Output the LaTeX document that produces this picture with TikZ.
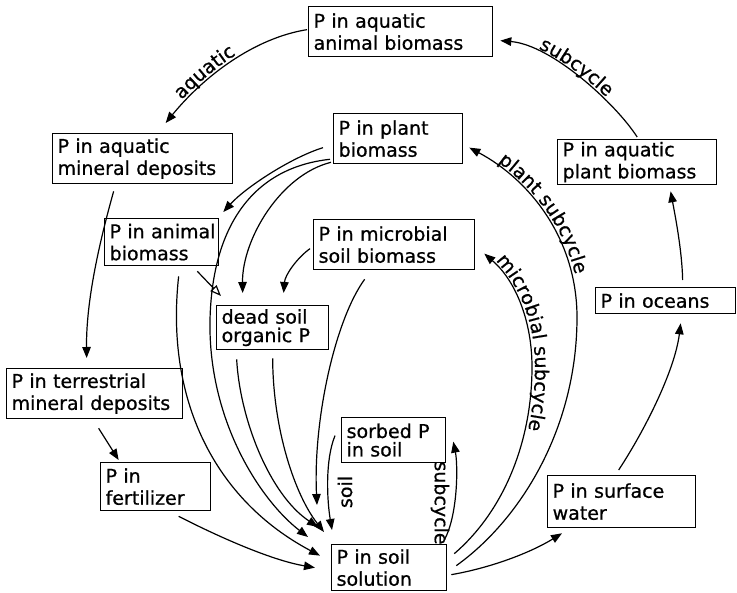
\documentclass[tikz,border=0pt]{standalone}
\usepackage{fontspec}
\setmainfont{DejaVu Sans}[FakeBold=0.8]
\usetikzlibrary{arrows.meta,decorations.text}
\newcommand\lbl{\fontsize{19}{22}\selectfont}
\newcommand\lbltight{\fontsize{19}{18.5}\selectfont}
\newcommand\boxline[1]{\mbox{#1}}
\begin{document}
\begin{tikzpicture}[x=1pt,y=1pt,
  box/.style={draw, line width=1.3pt, anchor=north west, inner xsep=5pt, inner ysep=0pt, align=left, font=\lbl},
  arr/.style={line width=1.2pt, -{Triangle[length=11pt,width=8.5pt]}},
  oarr/.style={line width=1.2pt, -{Triangle[open,length=11pt,width=8.5pt]}},
  lab/.style={font=\lbl, inner sep=0pt},
  curvetext/.style={decorate, decoration={text along path, raise=3pt, text align={left indent=#1}}}
]
\useasboundingbox (0,0) rectangle (737,-593);

% boxes
\node[box, text width=174pt, minimum height=50pt] (aab) at (308,-6) {\boxline{P in aquatic}\\\boxline{animal biomass}};
\node[box, text width=170pt, minimum height=50pt] (amd) at (52,-133) {\boxline{P in aquatic}\\\boxline{mineral deposits}};
\node[box, text width=119pt, minimum height=50pt] (pb) at (333,-113) {\boxline{P in plant}\\\boxline{biomass}};
\node[box, text width=149pt, minimum height=45pt] (apb) at (557,-139) {\boxline{P in aquatic}\\\boxline{plant biomass}};
\node[box, text width=130pt, minimum height=26pt] (oce) at (595,-287) {\boxline{P in oceans}};
\node[box, text width=104pt, minimum height=47pt] (ab) at (104,-218) {\boxline{P in animal}\\\boxline{biomass}};
\node[box, text width=151pt, minimum height=50pt] (msb) at (313,-219) {\boxline{P in microbial}\\\boxline{soil biomass}};
\node[box, font=\lbltight, text width=102pt, minimum height=44pt] (dso) at (216,-305) {\boxline{dead soil}\\\boxline{organic P}};
\node[box, text width=166pt, minimum height=50pt] (tmd) at (6,-368) {\boxline{P in terrestrial}\\\boxline{mineral deposits}};
\node[box, text width=100pt, minimum height=48pt] (fer) at (100,-462) {\boxline{P in}\\\boxline{fertilizer}};
\node[box, font=\lbltight, text width=94pt, minimum height=45pt] (sor) at (341,-417) {\boxline{sorbed P}\\\boxline{in soil}};
\node[box, text width=105pt, minimum height=46pt] (sol) at (331,-544) {\boxline{P in soil}\\\boxline{solution}};
\node[box, text width=138pt, minimum height=52pt] (sw) at (547,-475) {\boxline{P in surface}\\\boxline{water}};

% outer cycle
\draw[arr] ([shift={(-1,2)}]aab.west) .. controls (255,-38) and (205,-75) .. ([shift={(23,10)}]amd.north);
\draw[arr] ([shift={(0,2)}]apb.north) .. controls (616,-104) and (552,-45) .. ([shift={(7,-9)}]aab.east);
\draw[arr] ([shift={(-29,-7)}]amd.south) .. controls (100,-240) and (86,-300) .. ([shift={(-8,10)}]tmd.north);
\draw[arr] ([shift={(4,-9)}]tmd.south) -- ([shift={(-37,2)}]fer.north);
\draw[arr] ([shift={(23,-5)}]fer.south) .. controls (215,-535) and (270,-560) .. ([shift={(-16,0)}]sol.west);
\draw[arr] ([shift={(4,-7)}]sol.east) .. controls (490,-568) and (530,-553) .. ([shift={(15,-5)}]sw.south west);
\draw[arr] ([shift={(-3,5)}]sw.north) .. controls (645,-430) and (675,-370) .. ([shift={(15,-9)}]oce.south);
\draw[arr] ([shift={(17,7)}]oce.north) .. controls (682,-250) and (675,-215) .. ([shift={(33.5,-6)}]apb.south);

% inner arrows
\draw[arr] ([shift={(-10,-9)}]pb.west) .. controls (290,-158) and (245,-188) .. ([shift={(4,6)}]ab.north east);
\draw[arr] ([shift={(-3,5)}]pb.south west) .. controls (250,-168) and (212,-230) .. (210,-320) .. controls (208,-420) and (260,-500) .. ([shift={(-23,7)}]sol.north west);
\draw[arr] ([shift={(-2,2)}]pb.south west) .. controls (280,-175) and (242,-240) .. ([shift={(-30,12)}]dso.north);
\draw[oarr] ([shift={(-22,-5)}]ab.south east) -- ([shift={(5,9)}]dso.north west);
\draw[arr] ([shift={(-3,-4)}]msb.west) .. controls (297,-258) and (285,-275) .. ([shift={(11,12)}]dso.north);
\draw[arr] ([shift={(17,-10)}]ab.south) .. controls (165,-400) and (215,-500) .. ([shift={(-11,12)}]sol.west);
\draw[arr] ([shift={(-36,-9)}]dso.south) .. controls (240,-420) and (270,-495) .. ([shift={(-13,17)}]sol.north west);
\draw[arr] ([shift={(0,-8)}]dso.south) .. controls (273,-430) and (295,-495) .. ([shift={(-7,12)}]sol.north west);
\draw[arr] ([shift={(-29.5,-9)}]msb.south) .. controls (335,-320) and (313,-420) .. ([shift={(-14,39)}]sol.north west);
\draw[arr] ([shift={(-6,4.5)}]sor.west) .. controls (325,-460) and (327,-500) .. ([shift={(1,14)}]sol.north west);
\draw[arr] ([shift={(-3,4)}]sol.north east) .. controls (458,-515) and (458,-465) .. ([shift={(7,-1.5)}]sor.east);
\draw[arr] ([shift={(7,14)}]sol.east) .. controls (505,-510) and (532,-440) .. (532,-367) .. controls (532,-320) and (515,-280) .. ([shift={(9,-9)}]msb.east);
\draw[arr] ([shift={(9,2)}]sol.east) .. controls (520,-520) and (576,-430) .. (577,-320) .. controls (578,-240) and (530,-180) .. ([shift={(6,-9)}]pb.east);

% labels
\path[curvetext=28pt, decoration={text={|\lbl|aquatic}}] (165,-123) .. controls (205,-75) and (255,-38) .. (307,-29);
\path[curvetext=40pt, decoration={text={|\lbl|subcycle}}] (499,-40) .. controls (552,-45) and (616,-104) .. (635,-137);
\path[curvetext=33pt, decoration={text={|\lbl|plant subcycle}}] (468,-147) .. controls (530,-180) and (578,-240) .. (577,-320);
\path[curvetext=14pt, decoration={text={|\lbl|microbial subcycle}}] (483,-253) .. controls (515,-280) and (532,-320) .. (532,-367) .. controls (532,-440) and (505,-510) .. (453,-553);
\node[lab, rotate=90] (soillab) at (345,-492) {soil};
\node[lab, rotate=-90] (sub4lab) at (440,-503) {subcycle};
\end{tikzpicture}
\end{document}
